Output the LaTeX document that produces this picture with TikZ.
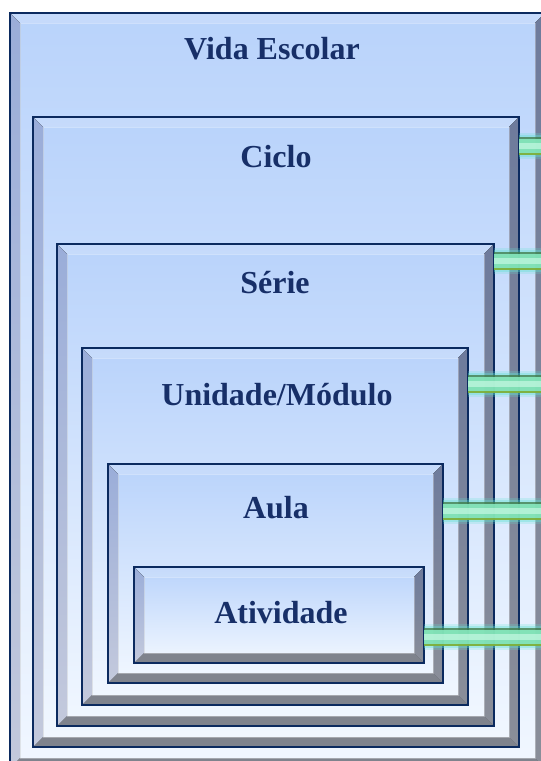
\documentclass[tikz,border=0pt]{standalone}
\usepackage{fontspec}
\setmainfont{Liberation Serif}
\usetikzlibrary{calc}

\definecolor{navy}{HTML}{0B2A5F}
\definecolor{ink}{HTML}{172F68}
\definecolor{fillTop}{HTML}{B9D3FB}
\definecolor{fillBot}{HTML}{F1F7FF}
\definecolor{leftTop}{HTML}{9AADD9}
\definecolor{leftBot}{HTML}{C3C9DC}
\definecolor{rightTop}{HTML}{6E7B9C}
\definecolor{rightBot}{HTML}{8A8E99}
\definecolor{botFace}{HTML}{7F838D}
\definecolor{glow}{HTML}{5FE3D2}
\definecolor{barEdgeTop}{HTML}{3F7A45}
\definecolor{barEdgeBot}{HTML}{86B83C}
\definecolor{barMint}{HTML}{8CF3C8}
\definecolor{barLight}{HTML}{D8FFEE}

\tikzset{
  bevbox/.style={anchor=north west, inner sep=0pt, outer sep=0pt,
    top color=fillTop, bottom color=fillBot, draw=navy, line width=2.9pt,
    path picture={
      \coordinate (pnw) at (path picture bounding box.north west);
      \coordinate (pse) at (path picture bounding box.south east);
      \coordinate (pne) at (pse |- pnw);
      \coordinate (psw) at (pnw |- pse);
      \coordinate (inw) at ($(pnw)+(10pt,-10pt)$);
      \coordinate (ine) at ($(pne)+(-10pt,-10pt)$);
      \coordinate (ise) at ($(pse)+(-10pt,10pt)$);
      \coordinate (isw) at ($(psw)+(10pt,10pt)$);
      \fill[white, opacity=0.18] (pnw) -- (pne) -- (ine) -- (inw) -- cycle;
      \fill[top color=leftTop, bottom color=leftBot] (pnw) -- (inw) -- (isw) -- (psw) -- cycle;
      \fill[top color=rightTop, bottom color=rightBot] (pne) -- (pse) -- (ise) -- (ine) -- cycle;
      \fill[botFace] (psw) -- (pse) -- (ise) -- (isw) -- cycle;
      \draw[white, opacity=0.3, line width=0.8pt] (inw) -- (ine) -- (ise) -- (isw) -- cycle;
    }},
  boxlabel/.style={anchor=base, text=ink, inner sep=0pt,
    font=\fontsize{32}{38}\selectfont\bfseries},
  linkbar/.style={line cap=butt,
    preaction={draw=glow, line width=26pt, opacity=0.22},
    preaction={draw=glow, line width=22pt, opacity=0.35},
    preaction={draw=barEdgeTop, line width=18pt, opacity=0.75},
    preaction={draw=barMint, line width=14.5pt, opacity=0.82},
    preaction={draw=barLight, line width=5.5pt, opacity=0.55},
    postaction={draw=barEdgeBot, line width=1.7pt, opacity=0.85,
      transform canvas={yshift=-8.1pt}}},
}

\begin{document}
\begin{tikzpicture}[x=1pt, y=-1pt]
  \path[use as bounding box] (0,0) rectangle (541,761);
  \fill[white] (0,0) rectangle (541,761);
  \begin{scope}
    \clip (0,0) rectangle (541,761);

    % nested bevelled boxes, outermost first
    \node[bevbox, minimum width=535pt, minimum height=755pt] (vida) at (10,13) {};
    \node[bevbox, minimum width=486pt, minimum height=630pt] (ciclo) at (33,117) {};
    \node[bevbox, minimum width=437pt, minimum height=482pt] (serie) at (57,244) {};
    \node[bevbox, minimum width=386pt, minimum height=357pt] (unidade) at (82,348) {};
    \node[bevbox, minimum width=335pt, minimum height=219pt] (aula) at (108,464) {};
    \node[bevbox, minimum width=290pt, minimum height=96pt] (atividade) at (134,567) {};

    % titles
    \node[boxlabel] (tVida) at (272,59) {Vida Escolar};
    \node[boxlabel] (tCiclo) at (276,167) {Ciclo};
    \node[boxlabel] (tSerie) at (275,293) {Série};
    \node[boxlabel] (tUnidade) at (277,405) {Unidade/Módulo};
    \node[boxlabel] (tAula) at (276,518) {Aula};
    \node[boxlabel] (tAtividade) at (281,623) {Atividade};

    % links leaving each box to the right edge
    \coordinate (r1) at (541,146);
    \coordinate (r2) at (541,261);
    \coordinate (r3) at (541,384);
    \coordinate (r4) at (541,511);
    \coordinate (r5) at (541,637);
    \path[linkbar] (r1 -| ciclo.east) -- (r1);
    \path[linkbar] (r2 -| serie.east) -- (r2);
    \path[linkbar] (r3 -| unidade.east) -- (r3);
    \path[linkbar] (r4 -| aula.east) -- (r4);
    \path[linkbar] (r5 -| atividade.east) -- (r5);
  \end{scope}
\end{tikzpicture}
\end{document}
